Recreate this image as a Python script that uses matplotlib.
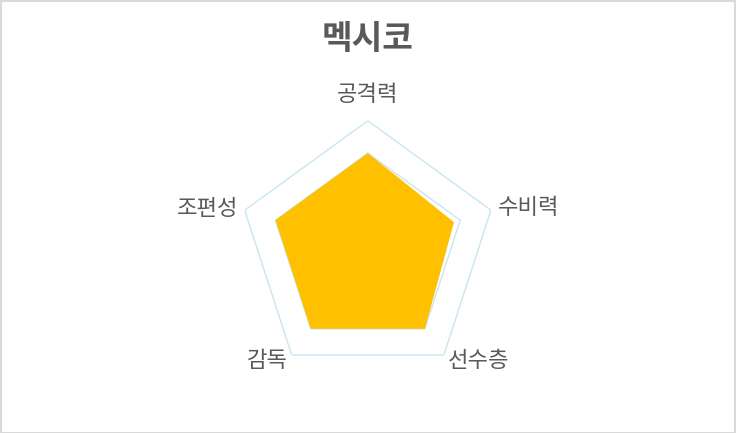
import numpy as np
import matplotlib
matplotlib.use("Agg")
import matplotlib.pyplot as plt
from matplotlib.patches import Rectangle

plt.rcParams['font.family'] = ['Noto Sans CJK KR', 'DejaVu Sans']

title = "멕시코"
categories = ["공격력", "수비력", "선수층", "감독", "조편성"]
values = [75, 70, 75, 75, 75]
grid_levels = [25, 50, 75, 100]
max_value = 100

fig = plt.figure(figsize=(7.36, 4.33), dpi=100)
ax = fig.add_axes([0.3238, 0.1231, 0.3519, 0.598], projection='polar')
ax.set_theta_offset(np.pi / 2)
ax.set_theta_direction(-1)
ax.set_ylim(0, max_value)
ax.grid(False)
ax.spines['polar'].set_visible(False)
ax.set_xticks([])
ax.set_yticks([])
ax.patch.set_alpha(0)

n = len(categories)
angles = np.linspace(0, 2 * np.pi, n, endpoint=False)
closed = np.concatenate([angles, angles[:1]])

for lvl in grid_levels:
    ax.plot(closed, [lvl] * (n + 1), color='#c9e6f0', lw=1.0, zorder=1)

vals = np.array(values + values[:1], dtype=float)
ax.fill(closed, vals, color='#FFC000', zorder=3, lw=0)

# labels
lab_specs = [
    (1.20 * max_value, 'center', 'center'),
    (1.06 * max_value, 'left', 'center'),
    (1.05 * max_value, 'left', 'center'),
    (1.05 * max_value, 'right', 'center'),
    (1.05 * max_value, 'right', 'center'),
]
for ang, lab, (r, ha, va) in zip(angles, categories, lab_specs):
    ax.text(ang, r, lab, ha=ha, va=va, fontsize=16, color='#595959')

fig.text(0.5, 1 - 40 / 433, title, ha='center', va='center', fontsize=24,
         fontweight='bold', color='#595959')

fig.patches.append(Rectangle((0.001, 0.001), 0.998, 0.997, transform=fig.transFigure,
                             fill=False, edgecolor='#d9d9d9', lw=1.5))

fig.savefig('out.png', dpi=100, facecolor='white')
